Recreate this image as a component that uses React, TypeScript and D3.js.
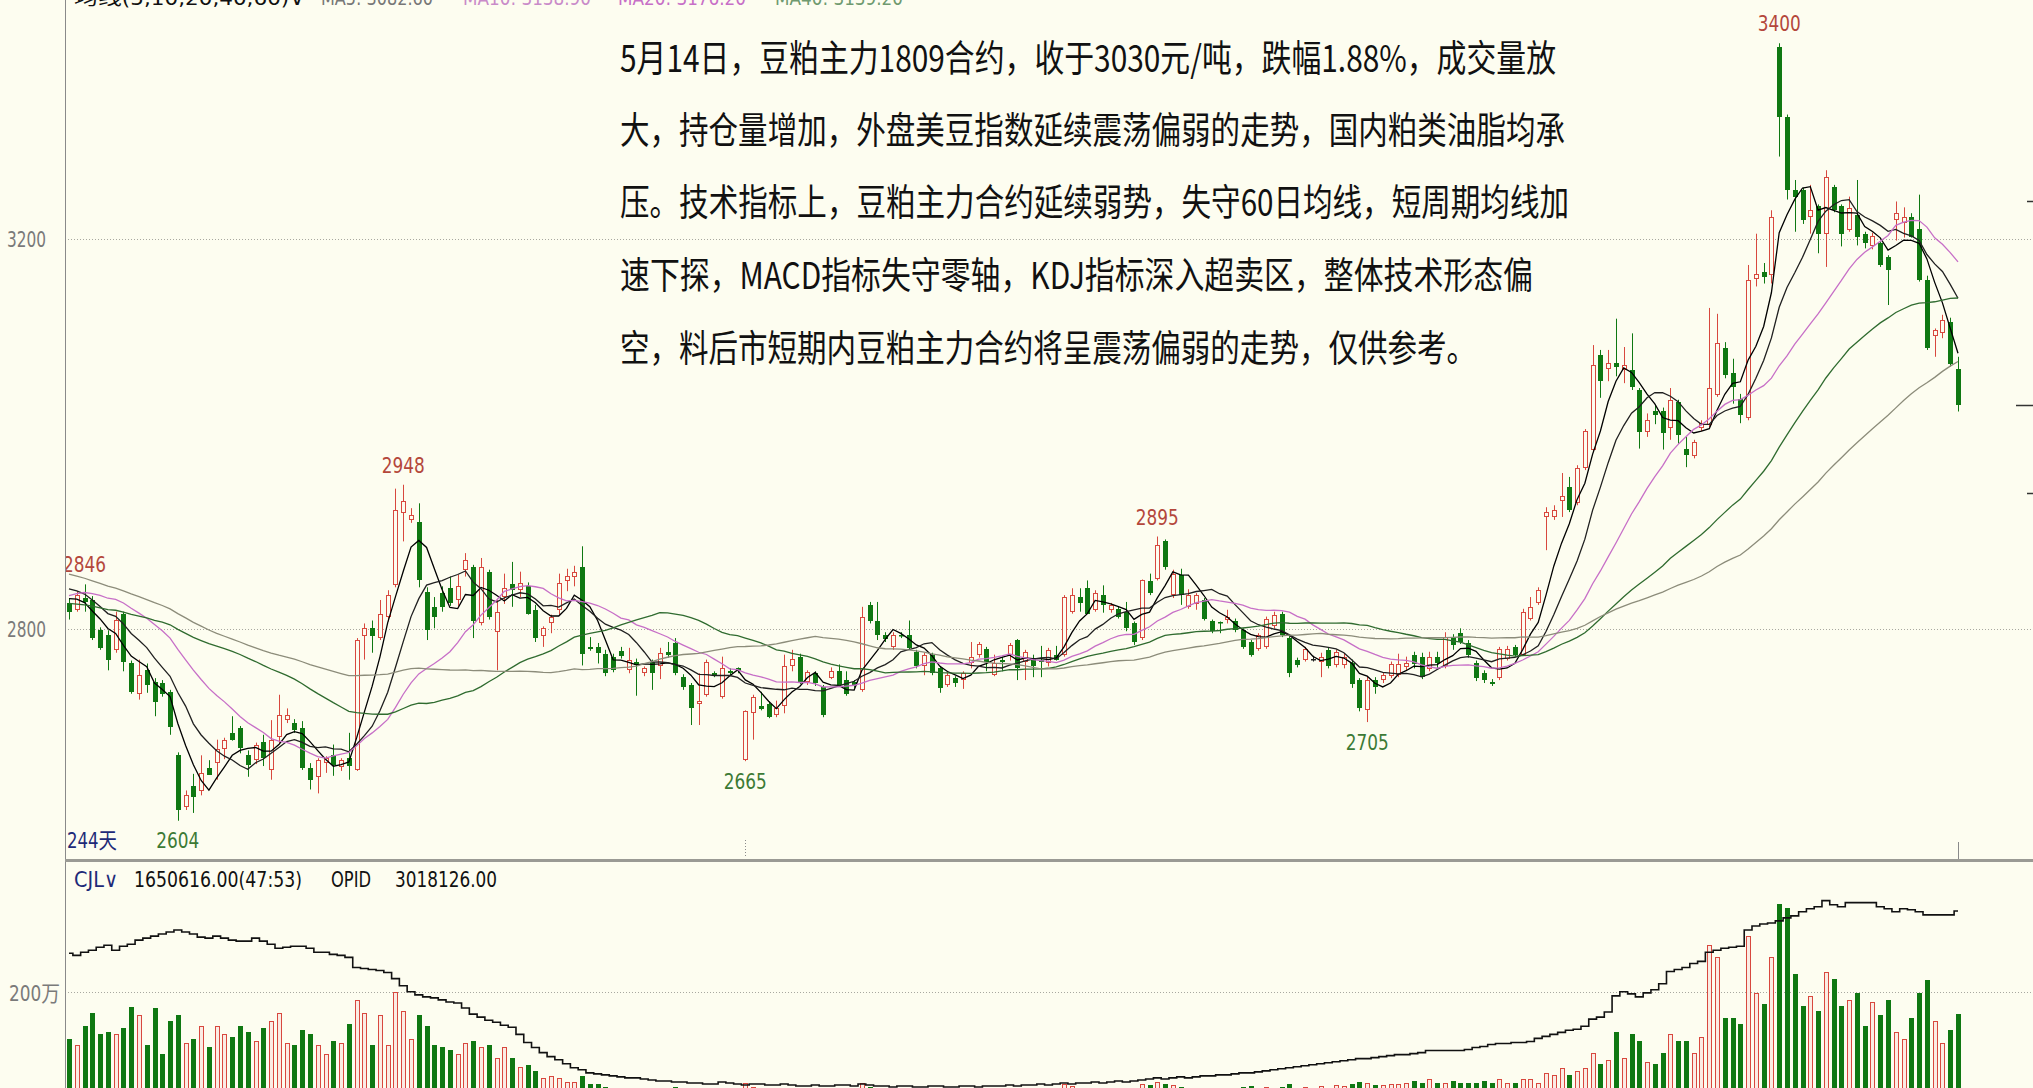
import { useEffect, useRef } from 'react'
import * as d3 from 'd3'

const W = 2033
const H = 1088

// daily OHLC of the soybean meal main contract, 244 sessions
const opens = [
  2827, 2820, 2832, 2830, 2799, 2794, 2779, 2816, 2765, 2734,
  2758, 2746, 2745, 2736, 2671, 2618, 2640, 2634, 2658, 2663,
  2677, 2694, 2699, 2671, 2666, 2685, 2656, 2690, 2707, 2704,
  2699, 2658, 2649, 2663, 2671, 2659, 2668, 2656, 2793, 2801,
  2791, 2813, 2845, 2919, 2912, 2910, 2838, 2823, 2837, 2842,
  2830, 2861, 2864, 2806, 2859, 2797, 2833, 2846, 2840, 2844,
  2820, 2793, 2806, 2820, 2849, 2854, 2864, 2782, 2782, 2775,
  2772, 2778, 2758, 2767, 2755, 2767, 2762, 2777, 2786, 2751,
  2743, 2724, 2733, 2755, 2731, 2757, 2760, 2666, 2714, 2721,
  2724, 2712, 2721, 2762, 2772, 2746, 2755, 2741, 2750, 2757,
  2748, 2746, 2738, 2825, 2808, 2794, 2782, 2794, 2794, 2777,
  2762, 2774, 2760, 2743, 2750, 2748, 2765, 2774, 2780, 2753,
  2769, 2774, 2789, 2767, 2770, 2769, 2765, 2774, 2774, 2818,
  2833, 2842, 2820, 2835, 2820, 2821, 2818, 2806, 2791, 2849,
  2852, 2890, 2835, 2856, 2823, 2826, 2830, 2808, 2807, 2810,
  2809, 2799, 2787, 2780, 2782, 2803, 2816, 2791, 2769, 2769,
  2770, 2767, 2779, 2763, 2763, 2766, 2748, 2717, 2748, 2748,
  2752, 2753, 2761, 2774, 2772, 2759, 2772, 2762, 2792, 2796,
  2786, 2765, 2755, 2746, 2750, 2770, 2782, 2774, 2811, 2827,
  2915, 2915, 2931, 2946, 2929, 2965, 2984, 3081, 3066, 3073,
  3065, 3065, 3045, 3002, 3024, 3023, 3006, 3033, 2985, 2977,
  3006, 3009, 3040, 3088, 3062, 3036, 3016, 3159, 3166, 3163,
  3396, 3325, 3250, 3250, 3222, 3233, 3205, 3253, 3233, 3209,
  3224, 3205, 3192, 3195, 3181, 3219, 3216, 3222, 3210, 3158,
  3100, 3103, 3115, 3067,
]
const highs = [
  2832, 2839, 2846, 2834, 2802, 2799, 2818, 2818, 2768, 2769,
  2765, 2750, 2748, 2738, 2674, 2635, 2652, 2671, 2666, 2687,
  2689, 2711, 2701, 2676, 2684, 2692, 2707, 2733, 2719, 2708,
  2706, 2663, 2668, 2670, 2682, 2668, 2694, 2791, 2806, 2809,
  2830, 2840, 2944, 2948, 2924, 2929, 2843, 2833, 2844, 2854,
  2856, 2878, 2866, 2873, 2861, 2830, 2857, 2869, 2859, 2848,
  2825, 2803, 2815, 2857, 2862, 2865, 2885, 2792, 2786, 2779,
  2775, 2782, 2781, 2770, 2762, 2769, 2781, 2787, 2791, 2754,
  2745, 2755, 2769, 2757, 2772, 2760, 2761, 2717, 2733, 2736,
  2726, 2727, 2774, 2779, 2775, 2758, 2757, 2743, 2761, 2764,
  2757, 2748, 2823, 2828, 2828, 2797, 2797, 2797, 2809, 2779,
  2776, 2776, 2762, 2756, 2752, 2757, 2787, 2787, 2782, 2774,
  2772, 2786, 2790, 2779, 2774, 2783, 2781, 2783, 2835, 2842,
  2842, 2850, 2840, 2845, 2827, 2823, 2828, 2808, 2851, 2857,
  2895, 2892, 2861, 2862, 2841, 2837, 2832, 2810, 2808, 2820,
  2811, 2801, 2789, 2796, 2813, 2818, 2818, 2793, 2771, 2782,
  2773, 2776, 2781, 2779, 2775, 2769, 2750, 2752, 2751, 2756,
  2767, 2775, 2772, 2777, 2776, 2777, 2777, 2797, 2795, 2801,
  2789, 2768, 2758, 2749, 2782, 2783, 2784, 2821, 2833, 2843,
  2925, 2927, 2960, 2956, 2968, 3005, 3091, 3086, 3086, 3118,
  3089, 3103, 3047, 3021, 3030, 3027, 3047, 3035, 2997, 2994,
  3014, 3129, 3123, 3094, 3077, 3041, 3173, 3205, 3175, 3229,
  3400, 3327, 3260, 3252, 3255, 3235, 3270, 3255, 3235, 3243,
  3260, 3207, 3206, 3197, 3183, 3238, 3232, 3226, 3245, 3162,
  3108, 3122, 3119, 3079,
]
const lows = [
  2810, 2818, 2818, 2789, 2779, 2758, 2776, 2757, 2734, 2728,
  2735, 2711, 2731, 2692, 2604, 2615, 2612, 2630, 2651, 2646,
  2667, 2686, 2673, 2649, 2662, 2660, 2646, 2683, 2704, 2694,
  2656, 2636, 2632, 2653, 2650, 2655, 2646, 2655, 2769, 2776,
  2789, 2808, 2843, 2890, 2909, 2843, 2789, 2801, 2818, 2824,
  2824, 2854, 2791, 2804, 2810, 2758, 2826, 2823, 2833, 2815,
  2787, 2782, 2796, 2815, 2839, 2844, 2763, 2778, 2765, 2752,
  2756, 2770, 2755, 2732, 2752, 2738, 2749, 2771, 2753, 2738,
  2702, 2702, 2731, 2751, 2729, 2752, 2755, 2665, 2687, 2717,
  2709, 2710, 2714, 2757, 2744, 2743, 2742, 2710, 2749, 2741,
  2732, 2740, 2736, 2806, 2789, 2787, 2779, 2791, 2779, 2760,
  2753, 2753, 2735, 2741, 2741, 2739, 2760, 2771, 2757, 2752,
  2757, 2768, 2748, 2748, 2751, 2751, 2762, 2768, 2772, 2816,
  2818, 2816, 2818, 2817, 2817, 2811, 2798, 2784, 2789, 2835,
  2850, 2861, 2832, 2825, 2821, 2820, 2809, 2796, 2796, 2806,
  2797, 2780, 2772, 2778, 2780, 2801, 2792, 2751, 2761, 2767,
  2767, 2751, 2760, 2761, 2760, 2740, 2716, 2705, 2734, 2745,
  2750, 2751, 2758, 2760, 2749, 2757, 2760, 2760, 2779, 2785,
  2771, 2747, 2745, 2742, 2748, 2768, 2772, 2773, 2809, 2825,
  2881, 2912, 2915, 2920, 2927, 2963, 2982, 3037, 3054, 3059,
  3052, 3045, 2985, 2997, 3010, 2984, 2994, 2990, 2966, 2975,
  3003, 3007, 3038, 3057, 3031, 3011, 3014, 3151, 3154, 3154,
  3284, 3240, 3207, 3215, 3205, 3185, 3171, 3227, 3192, 3207,
  3193, 3190, 3189, 3171, 3132, 3198, 3201, 3201, 3156, 3086,
  3079, 3098, 3069, 3023,
]
const closes = [
  2818, 2835, 2828, 2791, 2781, 2769, 2810, 2767, 2736, 2753,
  2743, 2726, 2734, 2700, 2615, 2630, 2628, 2653, 2651, 2677,
  2687, 2687, 2678, 2661, 2682, 2668, 2687, 2712, 2712, 2697,
  2658, 2646, 2666, 2668, 2661, 2666, 2660, 2789, 2801, 2793,
  2816, 2835, 2922, 2931, 2917, 2850, 2799, 2813, 2823, 2827,
  2844, 2871, 2808, 2864, 2813, 2818, 2842, 2840, 2847, 2816,
  2791, 2801, 2813, 2847, 2855, 2859, 2775, 2780, 2776, 2755,
  2758, 2773, 2769, 2763, 2760, 2755, 2776, 2774, 2755, 2741,
  2719, 2727, 2767, 2753, 2760, 2755, 2757, 2716, 2731, 2718,
  2710, 2719, 2762, 2770, 2746, 2756, 2745, 2712, 2757, 2743,
  2734, 2743, 2813, 2808, 2794, 2790, 2794, 2793, 2781, 2762,
  2774, 2755, 2740, 2753, 2745, 2755, 2772, 2785, 2767, 2765,
  2767, 2784, 2760, 2777, 2762, 2767, 2779, 2769, 2833, 2835,
  2827, 2816, 2837, 2825, 2825, 2813, 2801, 2787, 2850, 2837,
  2886, 2864, 2857, 2835, 2835, 2835, 2811, 2798, 2806, 2813,
  2799, 2782, 2774, 2794, 2811, 2815, 2794, 2755, 2763, 2780,
  2770, 2772, 2762, 2777, 2772, 2744, 2719, 2748, 2741, 2753,
  2764, 2764, 2766, 2764, 2751, 2772, 2766, 2792, 2784, 2787,
  2774, 2750, 2748, 2744, 2780, 2780, 2774, 2818, 2823, 2840,
  2920, 2922, 2936, 2922, 2965, 3003, 3071, 3054, 3073, 3069,
  3071, 3048, 3002, 3014, 3019, 3001, 3035, 2999, 2978, 2992,
  3011, 3047, 3093, 3060, 3048, 3019, 3158, 3164, 3161, 3222,
  3325, 3250, 3243, 3219, 3229, 3205, 3263, 3229, 3205, 3231,
  3202, 3195, 3203, 3173, 3168, 3226, 3222, 3202, 3158, 3088,
  3106, 3117, 3072, 3030,
]

// closes before the visible window, only used to warm up the moving averages
const priorCloses = [
  2950, 2958, 2965, 2948, 2940, 2935, 2942, 2930, 2925, 2918,
  2922, 2915, 2908, 2912, 2900, 2895, 2902, 2890, 2885, 2878,
  2870, 2862, 2855, 2848, 2851, 2840, 2836, 2842, 2830, 2825,
  2818, 2822, 2812, 2806, 2800, 2795, 2790, 2785, 2778, 2783,
  2790, 2795, 2805, 2812, 2820, 2826, 2834, 2840, 2845, 2851,
  2848, 2856, 2860, 2852, 2847, 2842, 2838, 2845, 2834, 2822,
]

// volume, 万手
const volumes = [
  127, 117, 147, 167, 134, 138, 134, 144, 177, 164,
  117, 175, 103, 155, 164, 120, 127, 147, 114, 147,
  134, 130, 147, 138, 123, 144, 155, 167, 120, 117,
  141, 134, 117, 103, 123, 120, 150, 188, 167, 117,
  164, 117, 200, 170, 127, 164, 147, 117, 114, 109,
  103, 120, 123, 114, 117, 97, 114, 97, 83, 86,
  77, 66, 69, 66, 59, 59, 69, 56, 56,
  52, 48, 45, 50, 47, 44, 46, 49, 45, 51,
  47, 50, 44, 48, 46, 43, 45, 44, 58, 52,
  47, 44, 42, 50, 48, 45, 43, 46, 49, 44,
  42, 45, 41, 58, 52, 47, 44, 43, 40, 45,
  47, 43, 45, 48, 44, 42, 43, 46, 45, 44,
  42, 43, 45, 47, 44, 42, 41, 43, 40, 56,
  53, 48, 50, 47, 46, 44, 43, 48, 50, 57,
  55, 60, 57, 54, 52, 49, 47, 50, 48, 45,
  46, 48, 51, 53, 50, 52, 49, 51, 56, 50,
  52, 48, 53, 50, 55, 53, 57, 59, 58, 55, 54, 56, 57,
  58, 61, 58, 64, 58, 58, 61, 58, 58, 58, 61, 58,
  64, 58, 58, 64, 64, 58, 73, 71, 81, 71,
  77, 81, 104, 88, 94, 138, 97, 134, 124, 91,
  88, 104, 134, 124, 124, 104, 130, 274, 254, 160,
  160, 150, 287, 198, 182, 254, 338, 331, 228, 178,
  194, 170, 231, 221, 178, 188, 198, 147, 184, 164,
  188, 138, 127, 160, 198, 218, 154, 120, 141, 165.0616,
]

// open interest, 万手
const openInterest = [
  260, 258, 261, 263, 266, 268, 263, 267, 269, 273,
  275, 277, 279, 281, 283, 281, 279, 276, 275, 277,
  275, 273, 272, 272, 275, 272, 269, 265, 266, 267,
  267, 265, 261, 261, 259, 258, 256, 246, 245, 244,
  243, 241, 235, 228, 222, 219, 217, 216, 214, 212,
  211, 206, 200, 197, 194, 192, 189, 187, 180, 172,
  167, 162, 158, 155, 151, 147, 145, 142, 141, 140,
  139, 138, 137, 137, 136, 135, 134, 134, 133, 133,
  132, 132, 131, 131, 133, 132, 131, 130, 131, 131,
  130, 130, 131, 130, 129, 129, 130, 129, 129, 130,
  130, 129, 131, 130, 129, 129, 128, 129, 129, 128,
  128, 129, 129, 128, 128, 129, 129, 128, 129, 129,
  129, 130, 129, 130, 130, 131, 130, 131, 132, 131,
  132, 132, 133, 132, 133, 134, 133, 134, 135, 136,
  137, 136, 137, 138, 137, 138, 139, 139, 140, 140,
  141, 142, 142, 143, 144, 145, 146, 147, 148, 149,
  150, 151, 152, 153, 154, 155, 156, 156, 157, 158,
  159, 160, 160, 161, 162, 164, 164, 164, 164, 164,
  165, 167, 168, 170, 171, 171, 172, 172, 173, 176,
  178, 180, 182, 184, 185, 188, 195, 197, 202, 218,
  222, 220, 217, 221, 224, 230, 242, 244, 246, 250,
  252, 261, 263, 265, 266, 267, 283, 287, 289, 290,
  292, 295, 297, 301, 304, 306, 312, 308, 306, 310,
  310, 310, 310, 306, 304, 301, 304, 303, 301, 298,
  298, 298, 298, 301.8126,
]

const maPeriods = [5, 10, 20, 40, 60]
const maColors = ['#000000', '#202020', '#c76fc7', '#2f6b2f', '#8c8c7a']

const priceTicks = [2800, 3200]
const volumeTicks = [200]
const highMarks = [2, 43, 140, 220]
const lowMarks = [14, 87, 167]

const commentLines = [
  '5月14日，豆粕主力1809合约，收于3030元/吨，跌幅1.88%，成交量放',
  '大，持仓量增加，外盘美豆指数延续震荡偏弱的走势，国内粕类油脂均承',
  '压。技术指标上，豆粕主力合约延续弱势，失守60日均线，短周期均线加',
  '速下探，MACD指标失守零轴，KDJ指标深入超卖区，整体技术形态偏',
  '空，料后市短期内豆粕主力合约将呈震荡偏弱的走势，仅供参考。',
]

const BG = '#fdfdf0'
const RED = '#d8483e'
const GREEN = '#0f7812'
const HIGH_TXT = '#b4473b'
const LOW_TXT = '#3c7a35'
const NUM_FONT = '"DejaVu Sans Condensed", "Noto Sans CJK SC", sans-serif'
const CJK_FONT = '"Noto Sans CJK SC", "Noto Sans", sans-serif'

export default function App() {
  const ref = useRef<SVGSVGElement>(null)

  useEffect(() => {
    document.body.style.margin = '0'
    document.body.style.overflow = 'hidden'

    const svg = d3.select(ref.current)
    svg.selectAll('*').remove()

    const n = closes.length
    const axisX = 65
    const mainBottom = 858

    const x = d3.scaleLinear().domain([0, n - 1]).range([69, 1958])
    const y = d3.scaleLinear().domain([2800, 3200]).range([629.3, 238.6])
    const yVol = d3.scaleLinear().domain([0, 400]).range([1120, 864])
    const yOi = d3.scaleLinear().domain([100, 300]).range([1115.4, 912.8])
    const cx = (i: number) => Math.round(x(i))

    svg.append('rect').attr('width', W).attr('height', H).attr('fill', BG)

    const defs = svg.append('defs')
    defs.append('clipPath').attr('id', 'mainClip')
      .append('rect').attr('x', axisX + 1).attr('y', 0).attr('width', W).attr('height', mainBottom - 1)
    defs.append('clipPath').attr('id', 'volClip')
      .append('rect').attr('x', axisX + 1).attr('y', 863).attr('width', W).attr('height', H)

    // header row, mostly cut off by the top edge
    const all = priorCloses.concat(closes)
    const mas = maPeriods.map((p) =>
      closes.map((_, i) => {
        const k = i + priorCloses.length
        return d3.mean(all.slice(k - p + 1, k + 1)) as number
      })
    )
    const header = [
      { t: '均线(5,10,20,40,60)∨', x: 74, w: 231, c: '#111' },
      { t: `MA5: ${mas[0][n - 1].toFixed(2)}`, x: 321, w: 112, c: '#777' },
      { t: `MA10: ${mas[1][n - 1].toFixed(2)}`, x: 463, w: 128, c: '#c98bc9' },
      { t: `MA20: ${mas[2][n - 1].toFixed(2)}`, x: 618, w: 128, c: '#c76fc7' },
      { t: `MA40: ${mas[3][n - 1].toFixed(2)}`, x: 775, w: 128, c: '#6f9a6f' },
    ]
    header.forEach((h) => {
      svg.append('text').attr('x', h.x).attr('y', 5).attr('font-family', NUM_FONT).attr('font-size', 19)
        .attr('textLength', h.w).attr('lengthAdjust', 'spacingAndGlyphs').attr('fill', h.c).text(h.t)
    })

    // grid
    priceTicks.forEach((v) => {
      svg.append('line').attr('x1', axisX).attr('x2', W).attr('y1', Math.round(y(v)) + 0.5).attr('y2', Math.round(y(v)) + 0.5)
        .attr('stroke', '#a8a8a0').attr('stroke-dasharray', '1,2')
      svg.append('text').attr('x', 46).attr('y', y(v) + 8).attr('text-anchor', 'end')
        .attr('font-family', NUM_FONT).attr('font-size', 22).attr('textLength', 39).attr('lengthAdjust', 'spacingAndGlyphs')
        .attr('fill', '#7a7a7a').text(String(v))
    })
    volumeTicks.forEach((v) => {
      svg.append('line').attr('x1', axisX).attr('x2', W).attr('y1', Math.round(yVol(v)) + 0.5).attr('y2', Math.round(yVol(v)) + 0.5)
        .attr('stroke', '#a8a8a0').attr('stroke-dasharray', '1,2')
      svg.append('text').attr('x', 9).attr('y', yVol(v) + 9)
        .attr('font-family', NUM_FONT).attr('font-size', 22).attr('textLength', 51).attr('lengthAdjust', 'spacingAndGlyphs')
        .attr('fill', '#7a7a7a').text(`${v}万`)
    })

    // candles
    const main = svg.append('g').attr('clip-path', 'url(#mainClip)')
    d3.range(n).forEach((i) => {
      const o = opens[i], c = closes[i]
      const px = cx(i)
      const top = Math.round(y(Math.max(o, c)))
      const bot = Math.round(y(Math.min(o, c)))
      const hy = y(highs[i]), ly = y(lows[i])
      if (c > o) {
        main.append('line').attr('x1', px + 0.5).attr('x2', px + 0.5).attr('y1', hy).attr('y2', top)
          .attr('stroke', RED)
        main.append('line').attr('x1', px + 0.5).attr('x2', px + 0.5).attr('y1', bot).attr('y2', ly)
          .attr('stroke', RED)
        main.append('rect').attr('x', px - 1.5).attr('y', top + 0.5).attr('width', 4)
          .attr('height', Math.max(bot - top - 1, 0.5)).attr('fill', BG).attr('stroke', RED)
      } else {
        const col = c < o ? GREEN : '#222'
        main.append('line').attr('x1', px + 0.5).attr('x2', px + 0.5).attr('y1', hy).attr('y2', ly)
          .attr('stroke', col)
        main.append('rect').attr('x', px - 2).attr('y', top).attr('width', 5)
          .attr('height', Math.max(bot - top, 1.5)).attr('fill', col)
      }
    })

    // moving averages
    const maLine = d3.line<number>().x((_, i) => x(i)).y((d) => y(d))
    mas.forEach((m, k) => {
      main.append('path').attr('d', maLine(m)).attr('fill', 'none')
        .attr('stroke', maColors[k]).attr('stroke-width', 1.3)
    })

    // extreme value labels
    const mark = (i: number, v: number, ty: number, col: string) =>
      main.append('text').attr('x', x(i)).attr('y', ty).attr('text-anchor', 'middle')
        .attr('font-family', NUM_FONT).attr('font-size', 22).attr('textLength', 43)
        .attr('lengthAdjust', 'spacingAndGlyphs').attr('fill', col).text(String(v))
    highMarks.forEach((i) => mark(i, highs[i], y(highs[i]) - 12, HIGH_TXT))
    lowMarks.forEach((i) => mark(i, lows[i], y(lows[i]) + 27.5, LOW_TXT))

    svg.append('text').attr('x', 67).attr('y', 848).attr('font-family', NUM_FONT).attr('font-size', 22)
      .attr('textLength', 50).attr('lengthAdjust', 'spacingAndGlyphs').attr('fill', '#1e2a78').text(`${n}天`)

    // comment text
    const lineY = [72, 144, 216, 289, 362]
    const lineW = [936, 945, 949, 913, 856]
    commentLines.forEach((t, k) => {
      svg.append('text').attr('x', 620).attr('y', lineY[k]).attr('font-family', CJK_FONT)
        .attr('font-size', 37).attr('textLength', lineW[k]).attr('lengthAdjust', 'spacingAndGlyphs')
        .attr('fill', '#111').text(t)
    })

    // panel frame
    svg.append('line').attr('x1', axisX + 0.5).attr('x2', axisX + 0.5).attr('y1', 0).attr('y2', H)
      .attr('stroke', '#8a8a8a')
    svg.append('line').attr('x1', axisX).attr('x2', W).attr('y1', 860.5).attr('y2', 860.5)
      .attr('stroke', '#9a9a94').attr('stroke-width', 3)
    svg.append('line').attr('x1', cx(n - 1) + 0.5).attr('x2', cx(n - 1) + 0.5).attr('y1', 842).attr('y2', 859)
      .attr('stroke', '#8a8a8a')
    svg.append('line').attr('x1', cx(87) + 0.5).attr('x2', cx(87) + 0.5).attr('y1', 840).attr('y2', 858)
      .attr('stroke', '#8a8a8a').attr('stroke-dasharray', '1,2')
    ;[[2027, 201], [2016, 405], [2027, 493]].forEach(([x0, yy]) => {
      svg.append('line').attr('x1', x0).attr('x2', W).attr('y1', yy + 0.5).attr('y2', yy + 0.5)
        .attr('stroke', '#333').attr('stroke-width', 1.5)
    })

    // volume panel
    const vol = svg.append('g').attr('clip-path', 'url(#volClip)')
    volumes.forEach((v, i) => {
      const px = cx(i)
      const ty = Math.round(yVol(v))
      if (closes[i] > opens[i]) {
        vol.append('rect').attr('x', px - 1.5).attr('y', ty + 0.5).attr('width', 4).attr('height', 1120 - ty)
          .attr('fill', '#fbece4').attr('stroke', RED)
      } else {
        vol.append('rect').attr('x', px - 2).attr('y', ty).attr('width', 5).attr('height', 1120 - ty)
          .attr('fill', GREEN)
      }
    })
    const oiLine = d3.line<number>().x((_, i) => x(i)).y((d) => yOi(d)).curve(d3.curveStep)
    vol.append('path').attr('d', oiLine(openInterest)).attr('fill', 'none')
      .attr('stroke', '#111').attr('stroke-width', 1.6)

    const last = n - 1
    const volHead = [
      { t: 'CJL∨', x: 74, w: 44, c: '#1e2a78' },
      { t: `${(volumes[last] * 1e4).toFixed(2)}(47:53)`, x: 134, w: 168, c: '#111' },
      { t: 'OPID', x: 331, w: 40, c: '#111' },
      { t: (openInterest[last] * 1e4).toFixed(2), x: 395, w: 102, c: '#111' },
    ]
    volHead.forEach((h) => {
      svg.append('text').attr('x', h.x).attr('y', 887).attr('font-family', NUM_FONT).attr('font-size', 21)
        .attr('textLength', h.w).attr('lengthAdjust', 'spacingAndGlyphs').attr('fill', h.c).text(h.t)
    })
  }, [])

  return <svg ref={ref} width={W} height={H} style={{ display: 'block' }} />
}
